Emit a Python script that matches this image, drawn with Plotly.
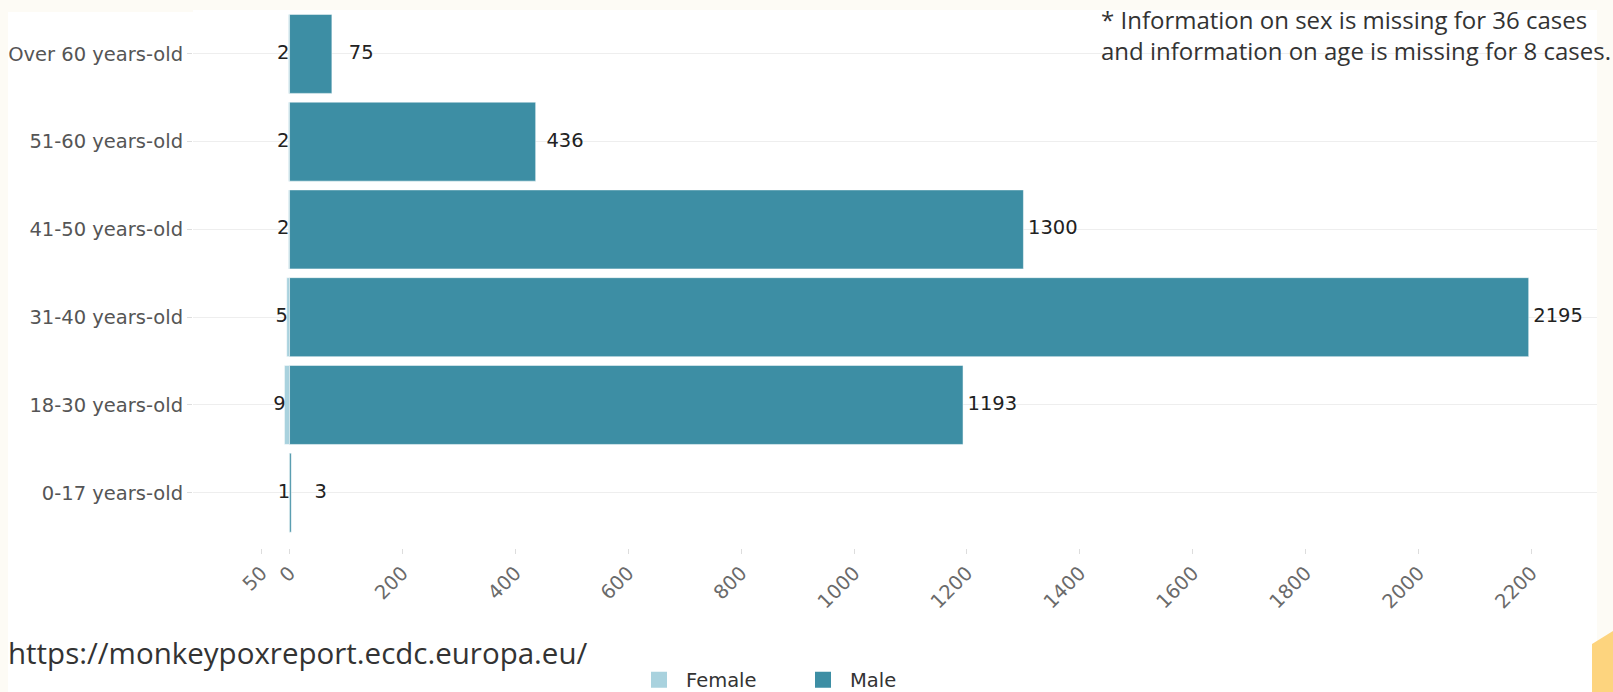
import plotly.graph_objects as go

# ---- data ----
age_groups = ["0-17 years-old", "18-30 years-old", "31-40 years-old",
              "41-50 years-old", "51-60 years-old", "Over 60 years-old"]
female = [1, 9, 5, 2, 2, 2]
male = [3, 1193, 2195, 1300, 436, 75]
tick_vals = [-50, 0, 200, 400, 600, 800, 1000, 1200, 1400, 1600, 1800, 2000, 2200]
tick_text = ["50", "0", "200", "400", "600", "800", "1000", "1200", "1400",
             "1600", "1800", "2000", "2200"]
note_text = ("* Information on sex is missing for 36 cases<br>"
             "and information on age is missing for 8 cases.")
source_text = "https://monkeypoxreport.ecdc.europa.eu/"

# ---- style ----
W, H = 1613, 692
L, R, T, B = 193, 16, 10, 144
PW, PH = W - L - R, H - T - B
def px_x(p):
    return (p - L) / PW
def px_y(p):
    return (H - B - p) / PH

FEMALE_C = "#a9d2de"
MALE_C = "#3d8ea4"
CREAM = "#fdfbf5"
FONT = "DejaVu Sans"
FS = 19.5
male_label_offset = 52
female_label_offset = 9
bar_line = dict(color="rgba(255,255,255,0.5)", width=1)

fig = go.Figure()
fig.add_trace(go.Bar(
    y=age_groups, x=[-v for v in female], orientation="h", name="Female",
    marker=dict(color=FEMALE_C, line=bar_line), showlegend=False,
))
fig.add_trace(go.Bar(
    y=age_groups, x=male, orientation="h", name="Male",
    marker=dict(color=MALE_C, line=bar_line), showlegend=False,
))
fig.add_trace(go.Scatter(
    y=age_groups, x=[-v - female_label_offset for v in female], mode="text",
    text=[str(v) for v in female], textposition="middle center",
    textfont=dict(family=FONT, size=FS, color="#222"),
    showlegend=False, hoverinfo="skip", cliponaxis=False,
))
fig.add_trace(go.Scatter(
    y=age_groups, x=[v + male_label_offset for v in male], mode="text",
    text=[str(v) for v in male], textposition="middle center",
    textfont=dict(family=FONT, size=FS, color="#222"),
    showlegend=False, hoverinfo="skip", cliponaxis=False,
))
# legend entries (square swatches)
for name, col in [("Female", FEMALE_C), ("Male", MALE_C)]:
    fig.add_trace(go.Scatter(
        x=[None], y=[None], mode="markers", name=name,
        marker=dict(symbol="square", size=16, color=col),
    ))

shapes = [
    dict(type="rect", xref="paper", yref="paper", layer="below",
         x0=px_x(8), x1=px_x(1597), y0=px_y(12), y1=px_y(H + 5),
         fillcolor="white", line=dict(width=0)),
    dict(type="path", xref="paper", yref="paper", layer="below",
         path=("M {x0},{y0} L {x1},{y1} L {x1},{y2} L {x0},{y2} Z").format(
             x0=px_x(1592), y0=px_y(644), x1=px_x(1613), y1=px_y(631), y2=px_y(H + 5)),
         fillcolor="#fdd47e", line=dict(width=0)),
]

fig.update_layout(
    template="none",
    width=W, height=H,
    margin=dict(l=L, r=R, t=T, b=B, autoexpand=False),
    paper_bgcolor=CREAM, plot_bgcolor="white",
    barmode="overlay", bargap=0.1,
    font=dict(family=FONT, size=FS, color="#444"),
    xaxis=dict(range=[-171, 2316], tickvals=tick_vals, ticktext=tick_text,
               tickangle=-45, showgrid=False, zeroline=False, showline=False,
               ticks="outside", ticklen=5, tickcolor="#dddddd",
               tickfont=dict(family=FONT, size=FS, color="#6a6a6a")),
    yaxis=dict(range=[-0.63, 5.5], categoryorder="array", categoryarray=age_groups,
               showgrid=True, gridcolor="#eeeeee", gridwidth=1, zeroline=False,
               showline=False, ticks="outside", ticklen=5, tickcolor="#dddddd",
               tickfont=dict(family=FONT, size=FS, color="#555")),
    legend=dict(orientation="h", x=px_x(632), xanchor="left", y=px_y(680),
                yanchor="middle", font=dict(family=FONT, size=FS, color="#333"),
                bgcolor="rgba(0,0,0,0)", entrywidth=105, itemwidth=44,
                itemsizing="trace"),
    shapes=shapes,
    annotations=[
        dict(text=note_text, xref="paper", yref="paper", x=px_x(1099), y=px_y(1),
             xanchor="left", yanchor="top", align="left", showarrow=False,
             font=dict(family="Open Sans", size=24, color="#333")),
        dict(text=source_text, xref="paper", yref="paper", x=px_x(6), y=px_y(652),
             xanchor="left", yanchor="middle", align="left", showarrow=False,
             font=dict(family="Open Sans", size=29.5, color="#333")),
    ],
)

fig.write_html("out.html", config={"displayModeBar": False},
               post_script="document.body.style.margin='0';")
